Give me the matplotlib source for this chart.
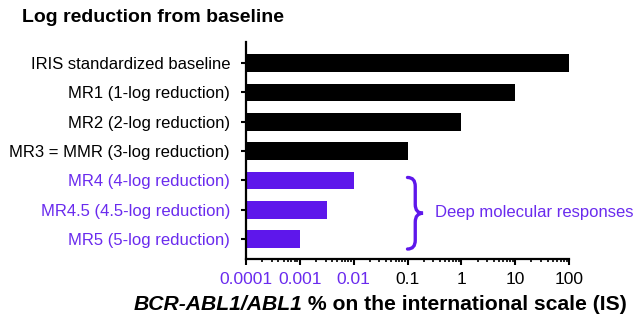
import matplotlib
matplotlib.use("Agg")
import matplotlib.pyplot as plt
from matplotlib.path import Path
from matplotlib.patches import PathPatch
import matplotlib.transforms as mtransforms
from matplotlib.ticker import LogLocator, NullFormatter, FixedLocator, FixedFormatter

plt.rcParams['font.family'] = ['Liberation Sans', 'DejaVu Sans']

categories = ["IRIS standardized baseline", "MR1 (1-log reduction)", "MR2 (2-log reduction)",
              "MR3 = MMR (3-log reduction)", "MR4 (4-log reduction)",
              "MR4.5 (4.5-log reduction)", "MR5 (5-log reduction)"]
values = [100, 10, 1, 0.1, 0.01, 0.0032, 0.001]
deep = [False, False, False, False, True, True, True]
xticks = [0.0001, 0.001, 0.01, 0.1, 1, 10, 100]
xticklabels = ["0.0001", "0.001", "0.01", "0.1", "1", "10", "100"]
xtick_purple = [True, True, True, False, False, False, False]

PURPLE = "#5E17EB"
TEXT_PURPLE = "#6A2BEE"
BLACK = "#000000"
BASE = 0.0001

fig = plt.figure(figsize=(6.38, 3.24), dpi=100)
ax = fig.add_axes([246/638, 1-259/324, (569-246)/638, (259-42)/324])

ypos = list(range(len(categories)))
colors = [PURPLE if d else BLACK for d in deep]
ax.barh(ypos, [v - BASE for v in values], left=BASE, height=0.6, color=colors)

ax.set_xscale('log')
ax.set_xlim(BASE, 100)
ax.set_ylim(6.68, -0.72)

ax.set_yticks(ypos)
ax.set_yticklabels(categories, fontsize=12)
for lab, d in zip(ax.get_yticklabels(), deep):
    lab.set_color(TEXT_PURPLE if d else BLACK)

ax.xaxis.set_major_locator(FixedLocator(xticks))
ax.xaxis.set_major_formatter(FixedFormatter(xticklabels))
ax.xaxis.set_minor_locator(LogLocator(base=10, subs=range(2, 10), numticks=20))
ax.xaxis.set_minor_formatter(NullFormatter())
for lab, p in zip(ax.get_xticklabels(), xtick_purple):
    lab.set_color(TEXT_PURPLE if p else BLACK)
    lab.set_fontsize(12.5)

for s in ['top', 'right']:
    ax.spines[s].set_visible(False)
for s in ['left', 'bottom']:
    ax.spines[s].set_linewidth(1.6)
ax.tick_params(axis='y', length=3.5, width=1.5, pad=8)
ax.tick_params(axis='x', which='major', length=4, width=1.5, pad=5.5)
ax.tick_params(axis='x', which='minor', length=2.5, width=1.2)

# curly brace
trans = mtransforms.blended_transform_factory(ax.transAxes, ax.transData)
xl, xm, xr = 0.50, 0.524, 0.548
yt, yb, ymid, d = 3.9, 6.34, 5.12, 0.3
verts = [(xl, yt), (xm, yt), (xm, yt + d),
         (xm, ymid - d), (xm, ymid), (xr, ymid),
         (xm, ymid), (xm, ymid + d),
         (xm, yb - d), (xm, yb), (xl, yb)]
codes = [Path.MOVETO, Path.CURVE3, Path.CURVE3,
         Path.LINETO, Path.CURVE3, Path.CURVE3,
         Path.CURVE3, Path.CURVE3,
         Path.LINETO, Path.CURVE3, Path.CURVE3]
ax.add_patch(PathPatch(Path(verts, codes), transform=trans, fill=False,
                       edgecolor=PURPLE, linewidth=2.4, capstyle='round', clip_on=False))
ax.text(0.585, 5.1, "Deep molecular responses", transform=trans, color=TEXT_PURPLE,
        fontsize=12, va='center', ha='left')

# title
fig.text(22/638, 1-18/324, "Log reduction from baseline", fontsize=14, fontweight='bold',
         va='center', ha='left')

# x label in two styles
y_lab = 1-305/324
t1 = fig.text(0, y_lab, "BCR-ABL1/ABL1", fontsize=15.2, fontweight='bold', style='italic',
              va='center', ha='left')
t2 = fig.text(0, y_lab, " % on the international scale (IS)", fontsize=15.2, fontweight='bold',
              va='center', ha='left')
fig.canvas.draw()
r = fig.canvas.get_renderer()
w1 = t1.get_window_extent(r).width / fig.bbox.width
w2 = t2.get_window_extent(r).width / fig.bbox.width
cx = 380/638
x0 = cx - (w1 + w2) / 2
t1.set_x(x0)
t2.set_x(x0 + w1)

fig.savefig("out.png", dpi=100)
